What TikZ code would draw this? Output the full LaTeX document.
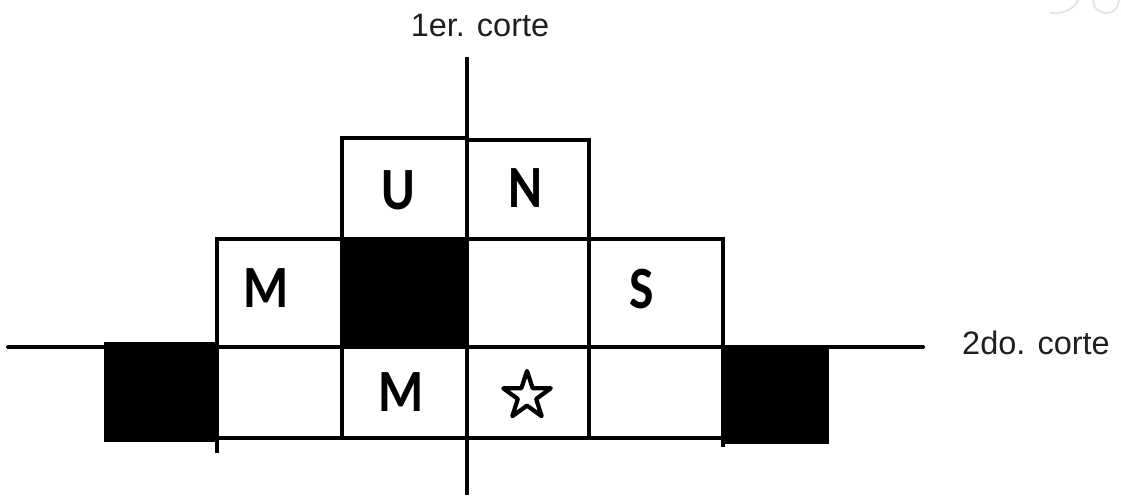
\documentclass[tikz,border=0pt]{standalone}
\usepackage{fontspec}
\setmainfont{Liberation Sans}
\newfontfamily\cellfont{Carlito}
\usetikzlibrary{shapes.geometric}
\definecolor{wmark}{RGB}{238,224,226}
\begin{document}
\begin{tikzpicture}[x=1pt,y=-1pt,
  cellline/.style={line width=4pt, line join=miter},
  blackcell/.style={cellline, fill=black},
  letter/.style={font=\cellfont\bfseries\fontsize{60}{64}\selectfont, inner sep=0pt},
  cutline/.style={line width=4pt},
  cutlabel/.style={font=\fontsize{32.5}{38}\selectfont, text=black!88, inner sep=0pt},
  starmark/.style={star, star points=5, star point ratio=2.6, draw, line width=4.2pt, line join=round, minimum size=50pt, inner sep=0pt}]
\useasboundingbox (0,0) rectangle (1121,495);
% faint watermark fragment
\draw[wmark, line width=2pt, line cap=round] (1050,13) .. controls (1065,14) and (1075,8) .. (1078,0);
\draw[wmark, line width=2pt, line cap=round] (1093,0) .. controls (1094,10) and (1100,13) .. (1107,13) .. controls (1114,13) and (1118,8) .. (1119,0);
% top row
\draw[cellline] (342,138) rectangle (467,239);
\draw[cellline] (467,140) rectangle (589,239);
% middle row
\draw[cellline] (217,239) rectangle (342,347);
\draw[blackcell] (342,239) rectangle (467,347);
\draw[cellline] (467,239) rectangle (589,347);
\draw[cellline] (589,239) rectangle (723,347);
% bottom row
\draw[blackcell] (106,344) rectangle (217,440);
\draw[cellline] (217,347) rectangle (342,438);
\draw[cellline] (342,347) rectangle (467,438);
\draw[cellline] (467,347) rectangle (589,438);
\draw[cellline] (589,347) rectangle (723,438);
\draw[blackcell] (723,347) rectangle (827,442);
% stubs
\coordinate (s1a) at (217,438); \coordinate (s1b) at (217,453);
\coordinate (s2a) at (723,440); \coordinate (s2b) at (723,447);
\draw[cellline] (s1a) -- (s1b);
\draw[cellline] (s2a) -- (s2b);
% cut lines
\coordinate (vtop) at (467,57); \coordinate (vbot) at (467,495);
\coordinate (hleft) at (8,347); \coordinate (hright) at (923,347);
\draw[cutline] (vtop) -- (vbot);
\draw[cutline, line cap=round] (hleft) -- (hright);
% letters
\node[letter] (u) at (398,190) {\scalebox{0.86}[1]{U}};
\node[letter] (n) at (525,188) {\scalebox{0.86}[1]{N}};
\node[letter] (m1) at (266,288) {\scalebox{0.86}[1]{M}};
\node[letter] (s) at (642,289) {\scalebox{0.86}[1]{S}};
\node[letter] (m2) at (401,392) {\scalebox{0.86}[1]{M}};
\node[starmark] (st) at (527,396) {};
% labels
\node[cutlabel] (l1) at (480,25) {1er. corte};
\node[cutlabel] (l2) at (1036,343) {2do. corte};
\end{tikzpicture}
\end{document}
